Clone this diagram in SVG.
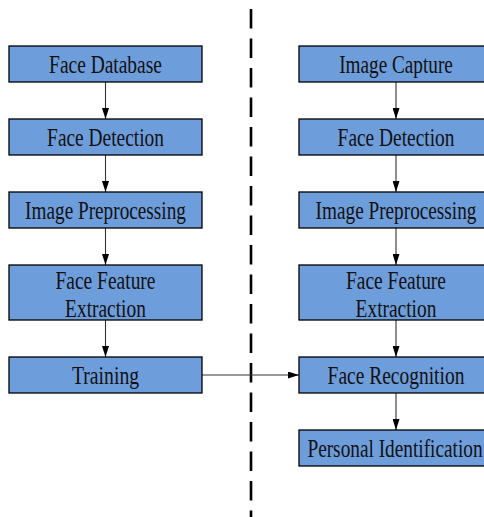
<svg xmlns="http://www.w3.org/2000/svg" width="484" height="517" viewBox="0 0 484 517">
<defs>
<style>
.box{fill:#6e9ddb;stroke:#000;stroke-width:1.3}
.t{font-family:"Liberation Serif","Times New Roman",serif;font-size:24.5px;fill:#111;text-anchor:middle}
.c{stroke:#333;stroke-width:1.1;fill:none;marker-end:url(#ah)}
</style>
<marker id="ah" markerWidth="11" markerHeight="7" refX="11" refY="3.5" orient="auto" markerUnits="userSpaceOnUse" viewBox="0 0 11 7">
<path d="M0,0 L11,3.5 L0,7 Z" fill="#000"/>
</marker>
</defs>
<rect width="484" height="517" fill="#fff"/>
<line x1="251" y1="9" x2="251" y2="517" stroke="#000" stroke-width="2.6" stroke-dasharray="19.5 10"/>
<g id="connectors">
<path class="c" d="M105.5,82 V119"/>
<path class="c" d="M105.5,155 V192"/>
<path class="c" d="M105.5,228 V265"/>
<path class="c" d="M105.5,320 V357"/>
<path class="c" d="M396,82 V119"/>
<path class="c" d="M396,155 V192"/>
<path class="c" d="M396,228 V265"/>
<path class="c" d="M396,320 V357"/>
<path class="c" d="M396,393 V430"/>
<path class="c" d="M202,375 H299"/>
</g>
<g font-family="Liberation Serif, Times New Roman, serif">
<g id="l1"><rect class="box" x="9" y="46" width="193" height="36"/><text class="t" transform="translate(105.5,73) scale(0.8,1)" textLength="141" lengthAdjust="spacingAndGlyphs">Face Database</text></g>
<g id="l2"><rect class="box" x="9" y="119" width="193" height="36"/><text class="t" transform="translate(105.5,146) scale(0.8,1)" textLength="146" lengthAdjust="spacingAndGlyphs">Face Detection</text></g>
<g id="l3"><rect class="box" x="9" y="192" width="193" height="36"/><text class="t" transform="translate(105.5,219) scale(0.8,1)" textLength="201" lengthAdjust="spacingAndGlyphs">Image Preprocessing</text></g>
<g id="l4"><rect class="box" x="9" y="265" width="193" height="55"/><text class="t" transform="translate(105.5,289) scale(0.8,1)" textLength="125" lengthAdjust="spacingAndGlyphs">Face Feature</text><text class="t" transform="translate(105.5,317) scale(0.8,1)" textLength="101" lengthAdjust="spacingAndGlyphs">Extraction</text></g>
<g id="l5"><rect class="box" x="9" y="357" width="193" height="36"/><text class="t" transform="translate(105.5,384) scale(0.8,1)" textLength="84" lengthAdjust="spacingAndGlyphs">Training</text></g>
<g id="r1"><rect class="box" x="299" y="46" width="187" height="36"/><text class="t" transform="translate(396,73) scale(0.8,1)" textLength="142" lengthAdjust="spacingAndGlyphs">Image Capture</text></g>
<g id="r2"><rect class="box" x="299" y="119" width="187" height="36"/><text class="t" transform="translate(396,146) scale(0.8,1)" textLength="146" lengthAdjust="spacingAndGlyphs">Face Detection</text></g>
<g id="r3"><rect class="box" x="299" y="192" width="187" height="36"/><text class="t" transform="translate(396,219) scale(0.8,1)" textLength="201" lengthAdjust="spacingAndGlyphs">Image Preprocessing</text></g>
<g id="r4"><rect class="box" x="299" y="265" width="187" height="55"/><text class="t" transform="translate(396,289) scale(0.8,1)" textLength="125" lengthAdjust="spacingAndGlyphs">Face Feature</text><text class="t" transform="translate(396,317) scale(0.8,1)" textLength="101" lengthAdjust="spacingAndGlyphs">Extraction</text></g>
<g id="r5"><rect class="box" x="299" y="357" width="187" height="36"/><text class="t" transform="translate(396,384) scale(0.8,1)" textLength="171" lengthAdjust="spacingAndGlyphs">Face Recognition</text></g>
<g id="r6"><rect class="box" x="299" y="430" width="187" height="36"/><text class="t" transform="translate(395,457) scale(0.8,1)" textLength="219" lengthAdjust="spacingAndGlyphs">Personal Identification</text></g>
</g>
</svg>
